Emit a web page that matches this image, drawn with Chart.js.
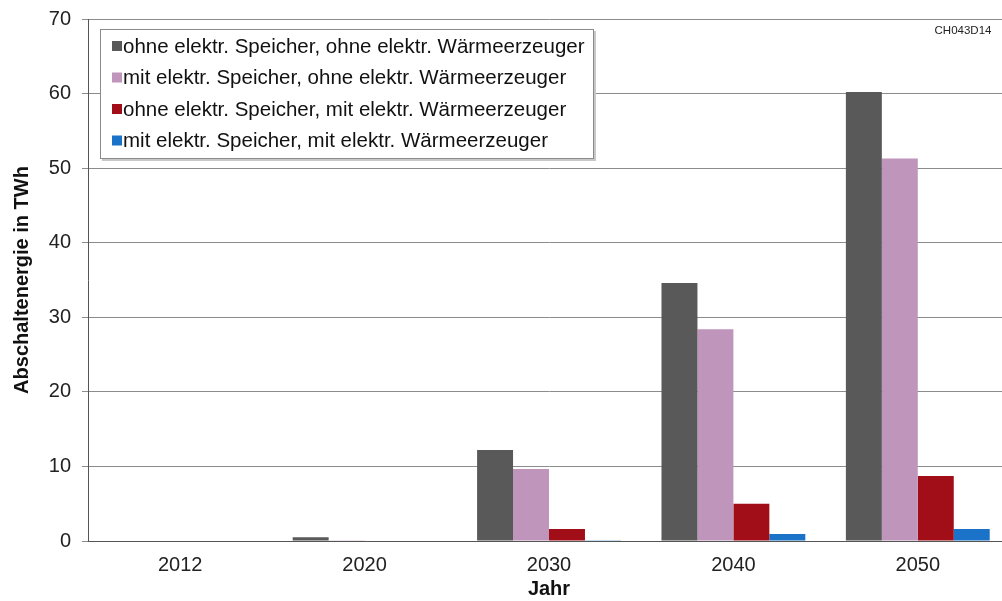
<!DOCTYPE html>
<html><head><meta charset="utf-8">
<script src="https://cdn.jsdelivr.net/npm/chart.js@4"></script>
<style>
html,body{margin:0;padding:0;background:#fff;overflow:hidden;}
#wrap{position:relative;width:1010px;height:601px;}
</style></head>
<body><div id="wrap"><canvas id="c" width="1010" height="601"></canvas></div>
<script>
const categories = ['2012','2020','2030','2040','2050'];
const seriesNames = [
  'ohne elektr. Speicher, ohne elektr. Wärmeerzeuger',
  'mit elektr. Speicher, ohne elektr. Wärmeerzeuger',
  'ohne elektr. Speicher, mit elektr. Wärmeerzeuger',
  'mit elektr. Speicher, mit elektr. Wärmeerzeuger'
];
const ohneOhne = [0, 0.5, 12.2, 34.6, 60.2];
const mitOhne  = [0, 0.1, 9.65, 28.4, 51.3];
const ohneMit  = [0, 0, 1.6, 5.0, 8.7];
const mitMit   = [0, 0, 0.1, 0.95, 1.6];
const colors = ['#595959','#c095bb','#a20e17','#1a73c8'];
const yTicks = [0,10,20,30,40,50,60,70];
const yTitle = 'Abschaltenergie in TWh';
const xTitle = 'Jahr';
const codeLabel = 'CH043D14';

const FONT = 'Liberation Sans, Arial, sans-serif';

const boxLegend = {
  id:'boxLegend',
  afterDraw(chart){
    const ctx = chart.ctx;
    const x0 = 100, y0 = 29, w = 493, h = 129;
    ctx.save();
    ctx.fillStyle = '#c8c8c8';
    ctx.fillRect(x0+2, y0+2, w+1, h+1);
    ctx.fillStyle = '#fff';
    ctx.fillRect(x0, y0, w, h);
    ctx.strokeStyle = '#8a8a8a';
    ctx.lineWidth = 1;
    ctx.strokeRect(x0+0.5, y0+0.5, w, h);
    ctx.font = '20.5px ' + FONT;
    ctx.textBaseline = 'middle';
    chart.data.datasets.forEach((ds,i)=>{
      const cy = y0 + 17 + i*31.5;
      ctx.fillStyle = ds.backgroundColor;
      ctx.fillRect(x0+12, cy-5, 10, 10);
      ctx.fillStyle = '#111';
      ctx.fillText(ds.label, x0+23, cy + 1);
    });
    ctx.font = '11.5px ' + FONT;
    ctx.fillStyle = '#222';
    ctx.textAlign = 'center';
    ctx.fillText(codeLabel, 963, 31);
    ctx.restore();
  }
};

const seriesData = [ohneOhne, mitOhne, ohneMit, mitMit];
new Chart(document.getElementById('c'), {
  type:'bar',
  data:{
    labels: categories,
    datasets: seriesData.map((d,i)=>({
      label: seriesNames[i], data: d,
      backgroundColor: colors[i], borderWidth:0,
      categoryPercentage:0.78, barPercentage:1.0
    }))
  },
  options:{
    responsive:false, animation:false,
    layout:{padding:{top:19,left:0,right:0,bottom:0}},
    plugins:{legend:{display:false}, tooltip:{enabled:false}},
    scales:{
      x:{
        grid:{display:false},
        border:{display:true,color:'#555',width:1},
        ticks:{color:'#222',font:{family:FONT,size:20},padding:4},
        title:{display:true,text:xTitle,color:'#111',font:{family:FONT,size:20,weight:'bold'},padding:{top:0,bottom:0}},
        afterFit(s){ s.height = 60; s.paddingLeft = 0; s.paddingRight = 0; }
      },
      y:{
        min:0,max:70,
        afterBuildTicks(s){ s.ticks = yTicks.map(v=>({value:v})); },
        grid:{color:'#8c8c8c',lineWidth:1,tickLength:6,drawTicks:true},
        border:{display:true,color:'#555',width:1},
        ticks:{color:'#222',font:{family:FONT,size:20},padding:11},
        title:{display:true,text:yTitle,color:'#111',font:{family:FONT,size:20,weight:'bold'},padding:{top:10,bottom:0}},
        afterFit(s){ s.width = 88; s.paddingTop = 0; s.paddingBottom = 0; }
      }
    }
  },
  plugins:[boxLegend]
});
</script></body></html>
